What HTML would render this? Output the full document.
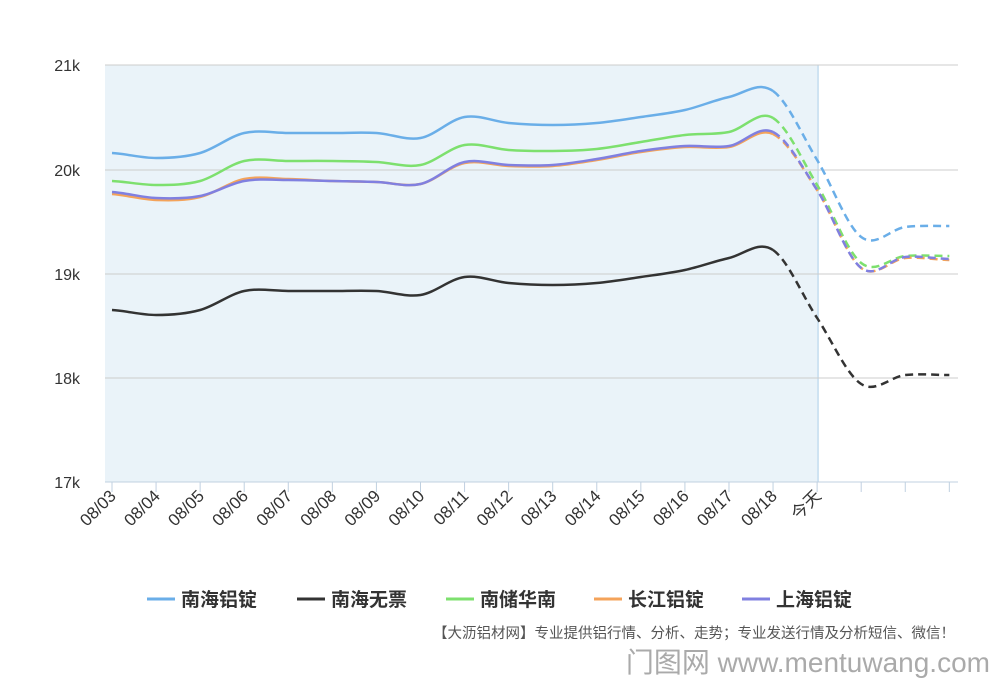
<!DOCTYPE html><html><head><meta charset="utf-8"><style>
body{margin:0;background:#fff;width:1000px;height:686px;overflow:hidden;font-family:"Liberation Sans","Noto Sans CJK SC",sans-serif}
</style></head><body>
<svg id="s" width="1000" height="686" xmlns="http://www.w3.org/2000/svg" font-family="Liberation Sans, Noto Sans CJK SC, sans-serif"></svg>
<script>
const s=document.getElementById('s');let h='';
h+='<rect x="105" y="65" width="713" height="417" fill="#eaf3f9"/>';
h+='<line x1="818" y1="65" x2="818" y2="482" stroke="#cfe3f2" stroke-width="2"/>';
[65,170,274,378].forEach(y=>h+=`<line x1="105" y1="${y}" x2="958" y2="${y}" stroke="#ccc"/>`);
h+='<line x1="105" y1="482" x2="958" y2="482" stroke="#c0d0e0"/>';
['21k','20k','19k','18k','17k'].forEach((t,i)=>h+=`<text x="80" y="${[71,176,280,384,488][i]}" text-anchor="end" font-size="16" fill="#333">${t}</text>`);
const X=i=>112+i*44.07;
const labs=['08/03','08/04','08/05','08/06','08/07','08/08','08/09','08/10','08/11','08/12','08/13','08/14','08/15','08/16','08/17','08/18','今天'];
for(let i=0;i<20;i++){h+=`<line x1="${X(i)}" y1="482" x2="${X(i)}" y2="492" stroke="#c0d0e0"/>`;
if(labs[i])h+=`<text transform="translate(${X(i)+5},${497}) rotate(-45)" text-anchor="end" font-size="17" fill="#333">${labs[i]}</text>`;}
const D=[["#6aaee8",[153,158,153,133,133,133,133,138,117,123,125,123,117,110,97,91,160,237,227,226]],
["#333",[310,315,310,291,291,291,291,295,277,283,285,283,277,270,258,250,318,384,375,375]],
["#7de06e",[181,185,181,161,161,161,162,165,145,150,151,149,142,135,132,118,185,263,256,256]],
["#f4a35a",[194,200,197,179,179,181,182,184,163,166,166,160,152,147,147,134,190,268,258,260]],
["#8080e0",[192,198,196,181,180,181,182,184,162,165,165,159,151,146,146,132,190,268,257,259]]];
function path(p,a,b){let d=`M${X(a)},${p[a]}`;for(let i=a;i<b;i++){const p0=p[Math.max(i-1,0)],p3=p[Math.min(i+2,19)];
const c1=p[i]+(p[i+1]-p0)/6,c2=p[i+1]-(p3-p[i])/6;d+=` C${X(i)+14.7},${c1} ${X(i+1)-14.7},${c2} ${X(i+1)},${p[i+1]}`;}return d;}
D.forEach(([c,p])=>{h+=`<path d="${path(p,0,15)}" fill="none" stroke="${c}" stroke-width="2.5"/>`;
h+=`<path d="${path(p,15,19)}" fill="none" stroke="${c}" stroke-width="2.5" stroke-dasharray="8,5"/>`;});
const L=[["#6aaee8","南海铝锭",147],["#333","南海无票",297],["#7de06e","南储华南",446],["#f4a35a","长江铝锭",594],["#8080e0","上海铝锭",742]];
L.forEach(([c,t,x])=>{h+=`<line x1="${x}" y1="599" x2="${x+28}" y2="599" stroke="${c}" stroke-width="3"/><text x="${x+34}" y="606" font-size="19" font-weight="bold" fill="#333">${t}</text>`;});
h+='<text x="955" y="638" text-anchor="end" font-size="14.5" fill="#555">【大沥铝材网】专业提供铝行情、分析、走势；专业发送行情及分析短信、微信！</text>';
h+='<text x="990" y="672" text-anchor="end" font-size="28" fill="#aaa">门图网 www.mentuwang.com</text>';
s.innerHTML=h;
</script></body></html>
